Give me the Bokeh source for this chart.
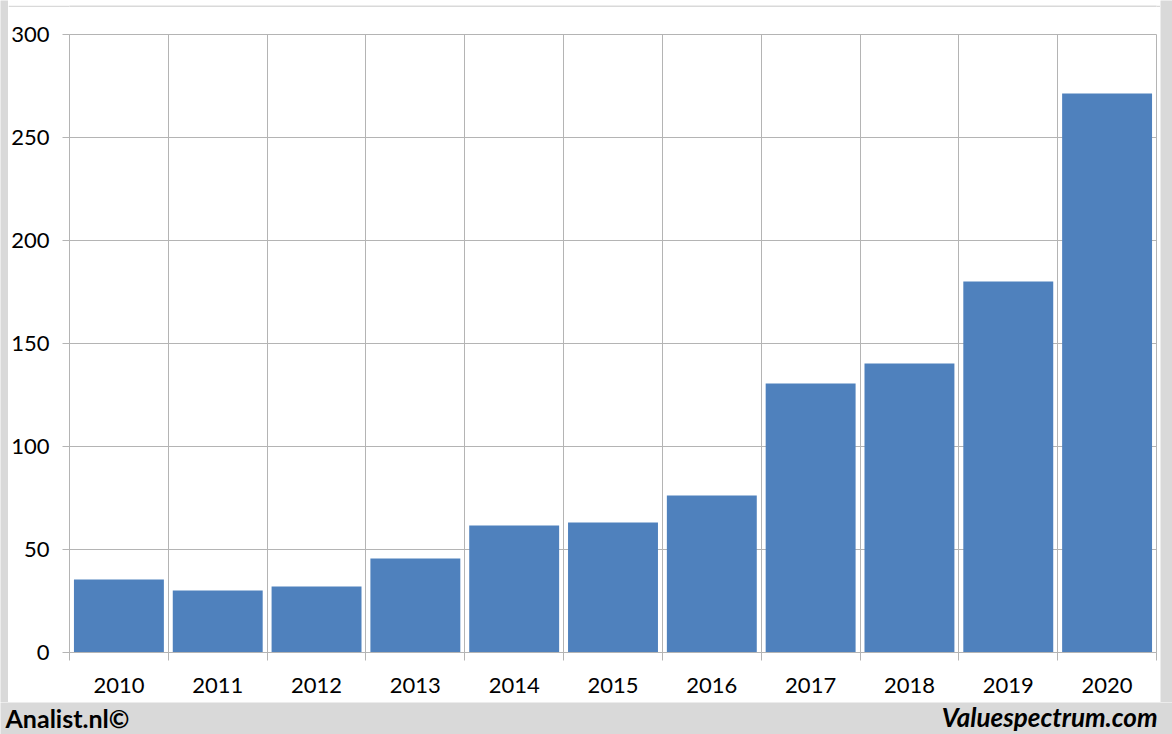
from bokeh.plotting import figure
from bokeh.models import FixedTicker, Label, Range1d
from bokeh.layouts import column, row
from bokeh.embed import file_html
from bokeh.resources import INLINE

years = ["2010", "2011", "2012", "2013", "2014", "2015", "2016", "2017", "2018", "2019", "2020"]
values = [35.4, 30.1, 32.0, 45.6, 61.7, 63.1, 76.2, 130.6, 140.3, 180.1, 271.4]
y_ticks = [0, 50, 100, 150, 200, 250, 300]

n = len(years)
centers = [i + 0.5 for i in range(n)]
bounds = [i for i in range(n + 1)]

GRID = "#b4b4b4"
BG = "#d9d9d9"
FONT = "Lato"


def strip(w, h):
    s = figure(width=w, height=h, output_backend="svg", toolbar_location=None, title=None,
               x_axis_type=None, y_axis_type=None, min_border=0,
               x_range=Range1d(0, w), y_range=Range1d(h, 0),
               background_fill_color=BG, border_fill_color=BG)
    s.outline_line_color = None
    s.grid.visible = False
    return s


p = figure(width=1152, height=695, output_backend="svg", toolbar_location=None, title=None,
           x_range=Range1d(0, n), y_range=Range1d(0, 300),
           min_border_left=60, min_border_right=4, min_border_top=27, min_border_bottom=50,
           background_fill_color="white", border_fill_color="white")
p.outline_line_color = GRID

p.vbar(x=centers, top=values, width=0.91, fill_color="#4f81bd", line_color=None)

# axes
p.xaxis.ticker = FixedTicker(ticks=centers, minor_ticks=bounds)
p.xaxis.major_label_overrides = {c: y for c, y in zip(centers, years)}
p.xaxis.major_tick_out = 0
p.xaxis.major_tick_in = 0
p.xaxis.minor_tick_out = 8
p.xaxis.minor_tick_in = 0
p.xaxis.minor_tick_line_color = GRID
p.xaxis.axis_line_color = GRID
p.xaxis.major_label_standoff = 17
p.xaxis.major_label_text_font = FONT
p.xaxis.major_label_text_font_size = "22px"
p.xaxis.major_label_text_color = "black"

p.yaxis.ticker = FixedTicker(ticks=y_ticks)
p.yaxis.major_tick_out = 7
p.yaxis.major_tick_in = 0
p.yaxis.minor_tick_line_color = None
p.yaxis.major_tick_line_color = GRID
p.yaxis.axis_line_color = GRID
p.yaxis.major_label_standoff = 13
p.yaxis.major_label_text_font = FONT
p.yaxis.major_label_text_font_size = "22px"
p.yaxis.major_label_text_color = "black"

p.xgrid.ticker = FixedTicker(ticks=bounds)
p.xgrid.grid_line_color = GRID
p.ygrid.grid_line_color = GRID

# footer
f = strip(1172, 32)
f.add_layout(Label(x=5, y=15, text="Analist.nl©",
                   text_font=FONT, text_font_size="25px", text_font_style="bold",
                   text_color="black", text_align="left", text_baseline="middle"))
f.add_layout(Label(x=1157, y=14, text="Valuespectrum.com",
                   text_font=FONT, text_font_size="26px", text_font_style="bold italic",
                   text_color="black", text_align="right", text_baseline="middle"))

layout = column(
    row(strip(8, 702), column(strip(1152, 7), p, spacing=0), strip(12, 702), spacing=0),
    f,
    spacing=0,
)

open("out.html", "w").write(file_html(layout, INLINE))
